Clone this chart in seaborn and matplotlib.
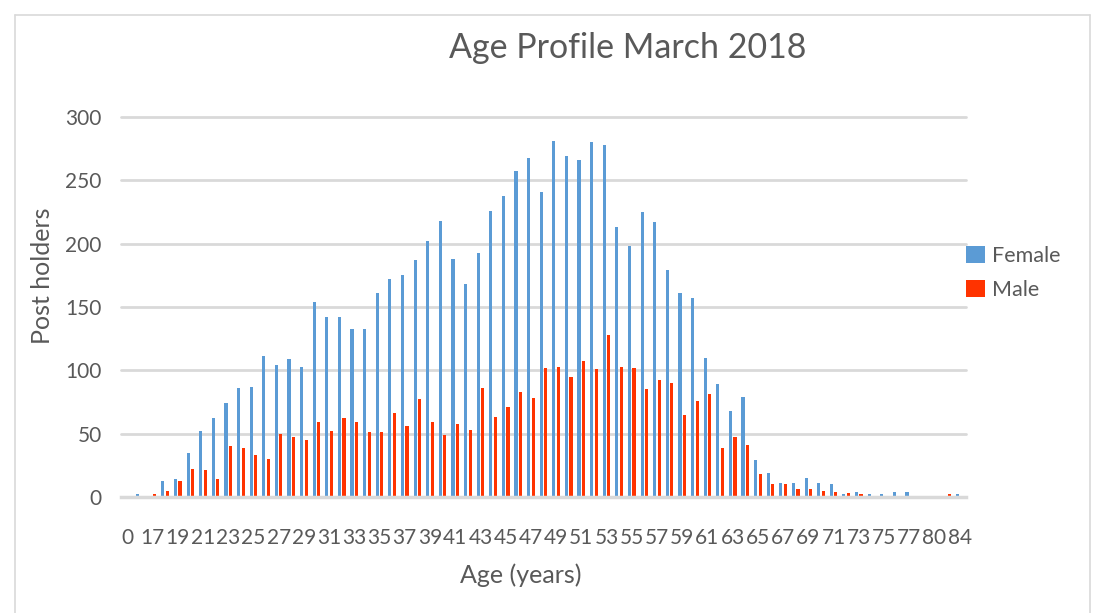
import matplotlib
matplotlib.use("Agg")
import matplotlib.pyplot as plt
import seaborn as sns
import pandas as pd
from matplotlib.lines import Line2D
from matplotlib.patches import Patch

ages = ["0", "16", "17", "18", "19", "20", "21", "22", "23", "24", "25", "26", "27", "28",
        "29", "30", "31", "32", "33", "34", "35", "36", "37", "38", "39", "40", "41", "42",
        "43", "44", "45", "46", "47", "48", "49", "50", "51", "52", "53", "54", "55", "56",
        "57", "58", "59", "60", "61", "62", "63", "64", "65", "66", "67", "68", "69", "70",
        "71", "72", "73", "74", "75", "76", "77", "78", "80", "82", "84"]
female = [1, 2, 1, 13, 14, 35, 52, 62, 74, 86, 87, 111, 104, 109,
          103, 154, 142, 142, 133, 133, 161, 172, 175, 187, 202, 218, 188, 168,
          193, 226, 238, 257, 268, 241, 281, 269, 266, 280, 278, 213, 198, 225,
          217, 179, 161, 157, 110, 89, 68, 79, 29, 19, 11, 11, 15, 11,
          10, 2, 4, 2, 2, 4, 4, 1, 1, 0, 2]
male = [0, 0, 2, 5, 13, 22, 21, 14, 40, 39, 33, 30, 50, 47,
        45, 59, 52, 62, 59, 51, 51, 66, 56, 77, 59, 49, 58, 53,
        86, 63, 71, 83, 78, 102, 103, 95, 107, 101, 128, 103, 102, 85,
        92, 90, 65, 76, 81, 39, 47, 41, 18, 10, 10, 6, 6, 5,
        4, 3, 2, 0, 1, 1, 1, 1, 0, 2, 0]
series = ["Female", "Male"]
colors = ["#5B9BD5", "#FF3300"]

df = pd.DataFrame({
    "Age": ages * 2,
    "Post holders": female + male,
    "Sex": ["Female"] * len(ages) + ["Male"] * len(ages),
})

sns.set_theme(style="white")
FONT = ["Lato", "DejaVu Sans"]
plt.rcParams["font.family"] = FONT
TXT = "#595959"

fig = plt.figure(figsize=(11.05, 6.13), dpi=100)
ax = fig.add_axes([121 / 1105, 1 - 497 / 613, (966 - 121) / 1105, (497 - 117) / 613])

sns.barplot(data=df, x="Age", y="Post holders", hue="Sex", order=ages,
            hue_order=series, palette=colors, width=0.72, gap=0.0,
            saturation=1, linewidth=0, ax=ax, legend=False)

# narrow the dodged bars, keeping their centres
for p in ax.patches:
    cx = p.get_x() + p.get_width() / 2
    w = 0.25
    p.set_x(cx - w / 2)
    p.set_width(w)
    p.set_antialiased(False)

ax.set_ylim(0, 300)
ax.set_xlim(-0.5, len(ages) - 0.5)
ax.set_yticks(range(0, 301, 50))
ax.set_yticklabels([str(v) for v in range(0, 301, 50)], fontsize=15, color=TXT)
tick_pos = list(range(0, len(ages), 2))
ax.set_xticks(tick_pos)
ax.set_xticklabels([ages[i] for i in tick_pos], fontsize=15, color=TXT)
ax.tick_params(axis="both", length=0)
ax.tick_params(axis="x", pad=22)
ax.tick_params(axis="y", pad=14)

ax.yaxis.grid(True, color="#D9D9D9", linewidth=2)
ax.set_axisbelow(True)
for gl in ax.get_ygridlines():
    gl.set_clip_on(False)
for s in ["left", "right", "top"]:
    ax.spines[s].set_visible(False)
ax.spines["bottom"].set_color("#D9D9D9")
ax.spines["bottom"].set_linewidth(2.5)

ax.set_xlabel("Age (years)", fontsize=18, color=TXT)
ax.set_ylabel("Post holders", fontsize=18, color=TXT)
ax.xaxis.set_label_coords((521 - 121) / 845, (497 - 575) / 380)
ax.yaxis.set_label_coords((42 - 121) / 845, (497 - 276) / 380)
ax.xaxis.label.set_va("center")
ax.yaxis.label.set_va("center")

fig.text(628 / 1105, 1 - 48 / 613, "Age Profile March 2018", ha="center", va="center",
         fontsize=24.5, color=TXT)

handles = [Patch(facecolor=c, edgecolor="none") for c in colors]
fig.legend(handles, series, loc="center left", bbox_to_anchor=(947 / 1105, 1 - 273 / 613),
           frameon=False, fontsize=15.5, labelcolor=TXT, handlelength=0.85, handleheight=0.85,
           handletextpad=0.35, labelspacing=0.65)

# chart area border (partially visible)
border = "#D9D9D9"
fig.add_artist(Line2D([15 / 1105, 15 / 1105], [0, 1 - 15 / 613], color=border, lw=1.2))
fig.add_artist(Line2D([15 / 1105, 1090 / 1105], [1 - 15 / 613, 1 - 15 / 613], color=border, lw=1.2))
fig.add_artist(Line2D([1090 / 1105, 1090 / 1105], [0, 1 - 15 / 613], color=border, lw=1.2))

fig.savefig("out.png", dpi=100, facecolor="white")
